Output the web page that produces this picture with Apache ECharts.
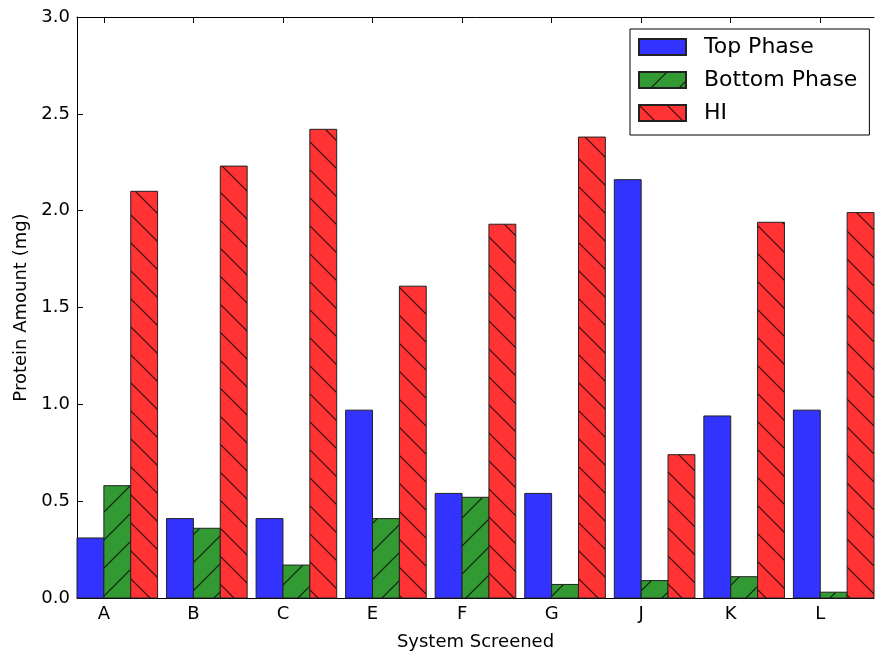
<!DOCTYPE html>
<html>
<head>
<meta charset="utf-8">
<script src="https://cdn.jsdelivr.net/npm/echarts@6/dist/echarts.min.js"></script>
<style>
html,body{margin:0;padding:0;background:#fff;}
#chart{width:875px;height:656px;}
</style>
</head>
<body>
<div id="chart"></div>
<script>
// ---- data ----
const categories = ['A', 'B', 'C', 'E', 'F', 'G', 'J', 'K', 'L'];
const topPhase    = [0.31, 0.41, 0.41, 0.97, 0.54, 0.54, 2.16, 0.94, 0.97];
const bottomPhase = [0.58, 0.36, 0.17, 0.41, 0.52, 0.07, 0.09, 0.11, 0.03];
const hiValues    = [2.10, 2.23, 2.42, 1.61, 1.93, 2.38, 0.74, 1.94, 1.99];
const seriesNames = ['Top Phase', 'Bottom Phase', 'HI'];
const yTickValues = [0, 0.5, 1.0, 1.5, 2.0, 2.5, 3.0];
const xTickValues = categories.map((c, i) => i);

const FONT = 'DejaVu Sans';
const BAR_W = 0.3;

function makeHatch(fill, dir) {
  const s = 28;
  const c = document.createElement('canvas');
  c.width = s; c.height = s;
  const g = c.getContext('2d');
  g.fillStyle = fill;
  g.fillRect(0, 0, s, s);
  g.strokeStyle = 'rgba(0,0,0,0.8)';
  g.lineWidth = 1.2;
  g.beginPath();
  for (let k = -1; k <= 1; k++) {
    if (dir === '\\') {
      g.moveTo(-2, -2 + k * s); g.lineTo(s + 2, s + 2 + k * s);
    } else {
      g.moveTo(-2, s + 2 + k * s); g.lineTo(s + 2, -2 + k * s);
    }
  }
  g.stroke();
  return { image: c, repeat: 'repeat' };
}

const fills = [
  '#3333ff',
  makeHatch('#339933', '/'),
  makeHatch('#ff3333', '\\')
];
const offsets = [-0.3, 0, 0.3];
const valueSets = [topPhase, bottomPhase, hiValues];

function makeSeries(idx) {
  return {
    name: seriesNames[idx],
    type: 'custom',
    xAxisIndex: 0,
    yAxisIndex: 0,
    itemStyle: { color: fills[idx], borderColor: '#222', borderWidth: 1 },
    data: valueSets[idx].map((v, i) => [i, v]),
    encode: { x: 0, y: 1 },
    renderItem: function (params, api) {
      const i = api.value(0);
      const v = api.value(1);
      const x0 = i + offsets[idx];
      const p1 = api.coord([x0, v]);
      const p2 = api.coord([x0 + BAR_W, 0]);
      return {
        type: 'rect',
        shape: { x: p1[0], y: p1[1], width: p2[0] - p1[0], height: p2[1] - p1[1] },
        style: { fill: fills[idx], stroke: '#222', lineWidth: 1 }
      };
    }
  };
}

const chart = echarts.init(document.getElementById('chart'), null, { renderer: 'canvas' });

const axisLineStyle = { color: '#000', width: 1 };

chart.setOption({
  animation: false,
  backgroundColor: '#fff',
  textStyle: { fontFamily: FONT },
  grid: { left: 77, right: 1, top: 17, bottom: 58, containLabel: false },
  legend: {
    orient: 'vertical',
    left: 630,
    top: 29,
    padding: [7, 12, 11, 8],
    itemGap: 11,
    itemWidth: 47,
    itemHeight: 16,
    icon: 'rect',
    borderColor: '#000',
    borderWidth: 1,
    backgroundColor: '#fff',
    data: seriesNames,
    textStyle: { fontFamily: FONT, fontSize: 22, lineHeight: 22, color: '#000', padding: [0, 0, 0, 13] }
  },
  xAxis: [
    {
      type: 'value',
      position: 'bottom',
      min: -0.3,
      max: 8.6,
      name: 'System Screened',
      nameLocation: 'middle',
      nameGap: 35,
      nameTextStyle: { fontFamily: FONT, fontSize: 18, color: '#000' },
      splitLine: { show: false },
      axisLine: { show: true, onZero: false, lineStyle: axisLineStyle },
      axisTick: { show: true, inside: true, length: 6, customValues: xTickValues, lineStyle: axisLineStyle },
      axisLabel: {
        show: true, margin: 7, fontFamily: FONT, fontSize: 18, color: '#000',
        customValues: xTickValues,
        formatter: v => categories[Math.round(v)] || ''
      }
    },
    {
      type: 'value',
      position: 'top',
      min: -0.3,
      max: 8.6,
      splitLine: { show: false },
      axisLine: { show: true, onZero: false, lineStyle: axisLineStyle },
      axisTick: { show: true, inside: true, length: 6, customValues: xTickValues, lineStyle: axisLineStyle },
      axisLabel: { show: false }
    }
  ],
  yAxis: [
    {
      type: 'value',
      position: 'left',
      min: 0,
      max: 3,
      interval: 0.5,
      name: 'Protein Amount (mg)',
      nameLocation: 'middle',
      nameGap: 45,
      nameTextStyle: { fontFamily: FONT, fontSize: 18, color: '#000' },
      splitLine: { show: false },
      axisLine: { show: true, onZero: false, lineStyle: axisLineStyle },
      axisTick: { show: true, inside: true, length: 6, lineStyle: axisLineStyle },
      axisLabel: {
        margin: 7, fontFamily: FONT, fontSize: 18, color: '#000',
        customValues: yTickValues,
        formatter: v => v.toFixed(1)
      }
    }
  ],
  series: [makeSeries(0), makeSeries(1), makeSeries(2)]
});
</script>
</body>
</html>
